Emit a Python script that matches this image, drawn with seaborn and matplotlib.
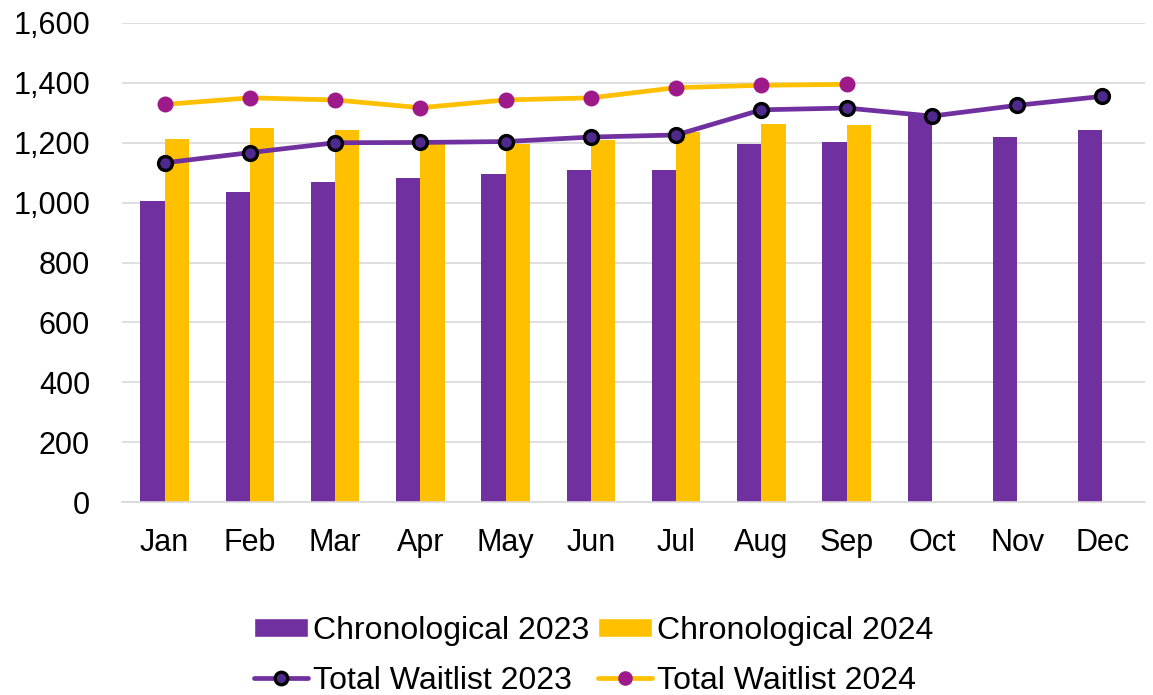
import numpy as np
import pandas as pd
import matplotlib
matplotlib.use("Agg")
import matplotlib.pyplot as plt
import seaborn as sns
from matplotlib.patches import Patch
from matplotlib.lines import Line2D
from matplotlib.ticker import FuncFormatter

months = ["Jan", "Feb", "Mar", "Apr", "May", "Jun", "Jul", "Aug", "Sep", "Oct", "Nov", "Dec"]
chrono_2023 = [1005, 1035, 1069, 1082, 1096, 1109, 1108, 1196, 1203, 1293, 1219, 1243]
chrono_2024 = [1213, 1249, 1241, 1195, 1197, 1209, 1237, 1263, 1258, np.nan, np.nan, np.nan]
total_2023 = [1133, 1167, 1200, 1201, 1204, 1219, 1226, 1310, 1316, 1289, 1325, 1355]
total_2024 = [1328, 1350, 1343, 1317, 1343, 1350, 1384, 1392, 1395]

C_PURPLE = "#7030A0"
C_YELLOW = "#FFC000"
C_MK23 = "#4E2A8E"
C_MK24 = "#9E1A8A"
FS = 22
FS_LEG = 23

sns.set_theme(style="white")
plt.rcParams["font.family"] = ["Liberation Sans", "DejaVu Sans"]

df = pd.DataFrame({
    "month": months * 2,
    "series": ["Chronological 2023"] * 12 + ["Chronological 2024"] * 12,
    "value": chrono_2023 + chrono_2024,
})

fig = plt.figure(figsize=(11.53, 6.95), dpi=100)
ax = fig.add_axes([122 / 1153, 1 - 502 / 695, (1145 - 122) / 1153, (502 - 23) / 695])

sns.barplot(data=df, x="month", y="value", hue="series", order=months,
            palette=[C_PURPLE, C_YELLOW], width=0.57, dodge=True,
            saturation=1, legend=False, ax=ax, errorbar=None, zorder=2,
            linewidth=0)

x23 = np.arange(len(total_2023))
x24 = np.arange(len(total_2024))
ax.plot(x23, total_2023, color=C_PURPLE, lw=3.4, marker="o", ms=10,
        mfc=C_MK23, mec="black", mew=2.4, zorder=4)
ax.plot(x24, total_2024, color=C_YELLOW, lw=3.4, marker="o", ms=11.5,
        mfc=C_MK24, mec=C_MK24, mew=0, zorder=4)

ax.set_ylim(0, 1600)
ax.set_xlim(-0.5, 11.5)
ax.set_yticks(range(0, 1601, 200))
ax.yaxis.set_major_formatter(FuncFormatter(lambda v, p: f"{int(v):,}"))
ax.grid(axis="y", color="#D9D9D9", lw=1.2, zorder=0)
ax.set_axisbelow(True)
for s in ["top", "right", "left"]:
    ax.spines[s].set_visible(False)
ax.spines["bottom"].set_color("#D9D9D9")
ax.spines["bottom"].set_linewidth(1.2)
ax.set_xlabel("")
ax.set_ylabel("")
ax.tick_params(axis="x", length=0, pad=19, labelsize=FS, colors="black")
ax.tick_params(axis="y", length=0, pad=23, labelsize=FS, colors="black")

handles = [
    Patch(facecolor=C_PURPLE, label="Chronological 2023"),
    Line2D([0], [0], color=C_PURPLE, lw=3.4, marker="o", ms=9, mfc=C_MK23,
           mec="black", mew=2.4, label="Total Waitlist 2023"),
    Patch(facecolor=C_YELLOW, label="Chronological 2024"),
    Line2D([0], [0], color=C_YELLOW, lw=3.4, marker="o", ms=9.5, mfc=C_MK24,
           mec=C_MK24, label="Total Waitlist 2024"),
]
fig.legend(handles=handles, ncol=2, loc="upper center",
           bbox_to_anchor=(0.515, 1 - 603 / 695), frameon=False,
           fontsize=FS_LEG, labelcolor="black", handlelength=1.7, handleheight=0.53,
           handletextpad=0.16, columnspacing=0.25, labelspacing=0.62,
           borderaxespad=0)

fig.savefig("out.png", dpi=100)
